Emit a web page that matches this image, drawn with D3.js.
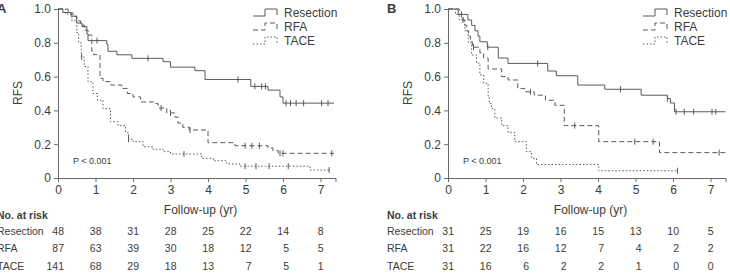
<!DOCTYPE html>
<html>
<head>
<meta charset="utf-8">
<script src="https://cdnjs.cloudflare.com/ajax/libs/d3/7.8.5/d3.min.js"></script>
<style>
  body { margin: 0; background: #fff; }
  text { font-family: "Liberation Sans", Arial, sans-serif; fill: #3c3c3c; }
</style>
</head>
<body>
<div id="chart"></div>
<script>
var svgWidth = 730;
var svgHeight = 273;

// risk table time points and rows
var riskTimes = [0, 1, 2, 3, 4, 5, 6, 7];
var groups = ["Resection", "RFA", "TACE"];
var yTicks = [0, 0.2, 0.4, 0.6, 0.8, 1.0];

// panel A curves: [years, RFS] step points
var aResection = [[0,1],[0.13,0.979],[0.35,0.958],[0.5,0.917],[0.64,0.896],[0.77,0.854],[0.8,0.813],[1.3,0.792],[1.33,0.75],[1.57,0.729],[1.97,0.708],[2.8,0.688],[3.0,0.656],[3.65,0.635],[3.92,0.583],[5.14,0.542],[5.6,0.52],[5.92,0.48],[6.0,0.443],[7.36,0.443]];
var aRFA = [[0,1],[0.27,0.977],[0.4,0.955],[0.5,0.93],[0.6,0.905],[0.7,0.875],[0.8,0.846],[0.9,0.75],[0.95,0.73],[1.12,0.59],[1.2,0.57],[1.4,0.55],[1.7,0.53],[1.85,0.5],[2.0,0.48],[2.2,0.45],[2.55,0.44],[2.67,0.414],[2.9,0.385],[3.12,0.36],[3.2,0.325],[3.33,0.3],[3.5,0.284],[4.0,0.209],[4.72,0.191],[5.6,0.178],[5.73,0.162],[5.87,0.146],[7.36,0.146]];
var aTACE = [[0,1],[0.2,0.97],[0.37,0.93],[0.5,0.86],[0.55,0.8],[0.62,0.716],[0.7,0.66],[0.8,0.57],[0.93,0.5],[1.05,0.46],[1.2,0.41],[1.4,0.333],[1.6,0.31],[1.8,0.27],[1.88,0.23],[2.0,0.215],[2.27,0.185],[2.53,0.17],[2.8,0.156],[3.0,0.142],[3.83,0.116],[4.14,0.102],[4.5,0.083],[4.85,0.07],[6.72,0.047],[7.25,0.047]];
var aResectionCens = [1.04, 2.4, 4.8, 5.25, 5.43, 5.53, 6.08, 6.2, 6.35, 6.55, 7.03, 7.2];
var aRFACens = [2.75, 3.0, 3.52, 4.99, 5.17, 5.37, 5.92, 6.0, 7.3];
var aTACECens = [0.63, 1.88, 3.36, 4.99, 5.28, 5.63, 6.14, 7.23];
var aRisk = [[48, 38, 31, 28, 25, 22, 14, 8], [87, 63, 39, 30, 18, 12, 5, 5], [141, 68, 29, 18, 13, 7, 5, 1]];

// panel B curves
var bResection = [[0,1],[0.27,0.968],[0.53,0.935],[0.63,0.903],[0.72,0.871],[0.8,0.839],[0.85,0.806],[1.05,0.774],[1.34,0.71],[1.6,0.678],[2.66,0.633],[2.89,0.605],[3.46,0.55],[4.18,0.525],[5.15,0.49],[5.85,0.47],[5.93,0.444],[6.04,0.392],[7.4,0.392]];
var bRFA = [[0,1],[0.3,0.968],[0.4,0.935],[0.45,0.903],[0.5,0.871],[0.55,0.839],[0.6,0.806],[0.65,0.774],[0.85,0.742],[0.95,0.71],[1.07,0.645],[1.43,0.6],[1.6,0.58],[1.86,0.53],[2.04,0.51],[2.3,0.49],[2.6,0.46],[2.85,0.43],[3.1,0.31],[4.02,0.215],[5.64,0.15],[7.4,0.15]];
var bTACE = [[0,1],[0.2,0.968],[0.3,0.935],[0.45,0.871],[0.54,0.8],[0.63,0.728],[0.76,0.68],[0.85,0.61],[0.95,0.56],[1.07,0.48],[1.1,0.44],[1.16,0.41],[1.25,0.355],[1.43,0.31],[1.6,0.27],[1.78,0.215],[2.09,0.156],[2.23,0.116],[2.36,0.08],[4.02,0.043],[6.12,0.043]];
var bResectionCens = [0.36, 1.06, 2.39, 4.6, 5.85, 6.08, 6.3, 6.55, 7.04, 7.14];
var bRFACens = [0.4, 0.68, 2.2, 3.38, 4.98, 5.47, 7.23];
var bTACECens = [6.12];
var bRisk = [[31, 25, 19, 16, 15, 13, 10, 5], [31, 22, 16, 12, 7, 4, 2, 2], [31, 16, 6, 2, 2, 1, 0, 0]];

var dashes = ["none", "5,3", "1.5,2"];
var lineColor = "#5a5a5a";

var svg = d3.select("#chart")
  .append("svg")
  .attr("width", svgWidth)
  .attr("height", svgHeight);

function stepAt(curve, t) {
  var s = curve[0][1];
  curve.forEach(function(p) { if (p[0] <= t) s = p[1]; });
  return s;
}

function drawPanel(left, letter, curves, cens, risk) {
  var xScale = d3.scaleLinear().domain([0, 7.4]).range([left, left + 277.5]);
  var yScale = d3.scaleLinear().domain([0, 1]).range([178, 9]);

  var g = svg.append("g");

  var xAxis = g.append("g")
    .attr("transform", "translate(0,178)")
    .call(d3.axisBottom(xScale).tickValues(riskTimes).tickSize(4).tickSizeOuter(4).tickPadding(3).tickFormat(d3.format("d")));
  var yAxis = g.append("g")
    .attr("transform", `translate(${left},0)`)
    .call(d3.axisLeft(yScale).tickValues(yTicks).tickSize(4).tickSizeOuter(0).tickPadding(3)
      .tickFormat(d => d === 0 ? "0" : d3.format(".1f")(d)));
  g.selectAll(".domain, .tick line").attr("stroke", "#6a6a6a");
  g.selectAll(".tick text").style("font-size", "12px").attr("fill", "#3c3c3c")
    .style("font-family", "'Liberation Sans', Arial, sans-serif");

  var line = d3.line()
    .x(d => xScale(d[0]))
    .y(d => yScale(d[1]))
    .curve(d3.curveStepAfter);

  curves.forEach(function(c, i) {
    g.append("path")
      .datum(c)
      .attr("d", line)
      .attr("fill", "none")
      .attr("stroke", lineColor)
      .attr("stroke-width", 1)
      .attr("stroke-dasharray", dashes[i]);

    g.selectAll(null)
      .data(cens[i])
      .enter()
      .append("line")
      .attr("x1", d => xScale(d))
      .attr("x2", d => xScale(d))
      .attr("y1", d => yScale(stepAt(c, d)) - 3)
      .attr("y2", d => yScale(stepAt(c, d)) + 3)
      .attr("stroke", lineColor)
      .attr("stroke-width", 1);
  });

  // legend
  groups.forEach(function(name, i) {
    var by = 17 + i * 14;
    var lx = left + 195;
    g.append("path")
      .attr("d", `M${lx},${by - 1}H${lx + 12}V${by - 8}H${lx + 24}V${by - 2}`)
      .attr("fill", "none")
      .attr("stroke", lineColor)
      .attr("stroke-dasharray", dashes[i]);
    g.append("text")
      .attr("x", left + 226)
      .attr("y", by)
      .style("font-size", "12px")
      .text(name);
  });

  g.append("text")
    .attr("x", left - 61)
    .attr("y", 13)
    .style("font-size", "13px")
    .style("font-weight", "bold")
    .text(letter);

  g.append("text")
    .attr("transform", `translate(${left - 36},93) rotate(-90)`)
    .attr("text-anchor", "middle")
    .style("font-size", "12px")
    .text("RFS");

  g.append("text")
    .attr("x", left + 15)
    .attr("y", 164)
    .style("font-size", "9px")
    .text("P < 0.001");

  g.append("text")
    .attr("x", xScale(3.8))
    .attr("y", 214)
    .attr("text-anchor", "middle")
    .style("font-size", "12px")
    .text("Follow-up (yr)");

  g.append("text")
    .attr("x", left - 61)
    .attr("y", 219)
    .style("font-size", "10.5px")
    .style("font-weight", "bold")
    .text("No. at risk");

  var rowY = [235, 252, 270];
  groups.forEach(function(name, i) {
    g.append("text")
      .attr("x", left - 61)
      .attr("y", rowY[i])
      .style("font-size", "10.5px")
      .text(name);
    g.selectAll(null)
      .data(risk[i])
      .enter()
      .append("text")
      .attr("x", (d, j) => xScale(riskTimes[j]) + (j === 7 ? 3 : 6))
      .attr("y", rowY[i])
      .attr("text-anchor", "end")
      .style("font-size", "10.5px")
      .text(d => d);
  });
}

drawPanel(58, "A", [aResection, aRFA, aTACE], [aResectionCens, aRFACens, aTACECens], aRisk);
drawPanel(448, "B", [bResection, bRFA, bTACE], [bResectionCens, bRFACens, bTACECens], bRisk);
</script>
</body>
</html>
